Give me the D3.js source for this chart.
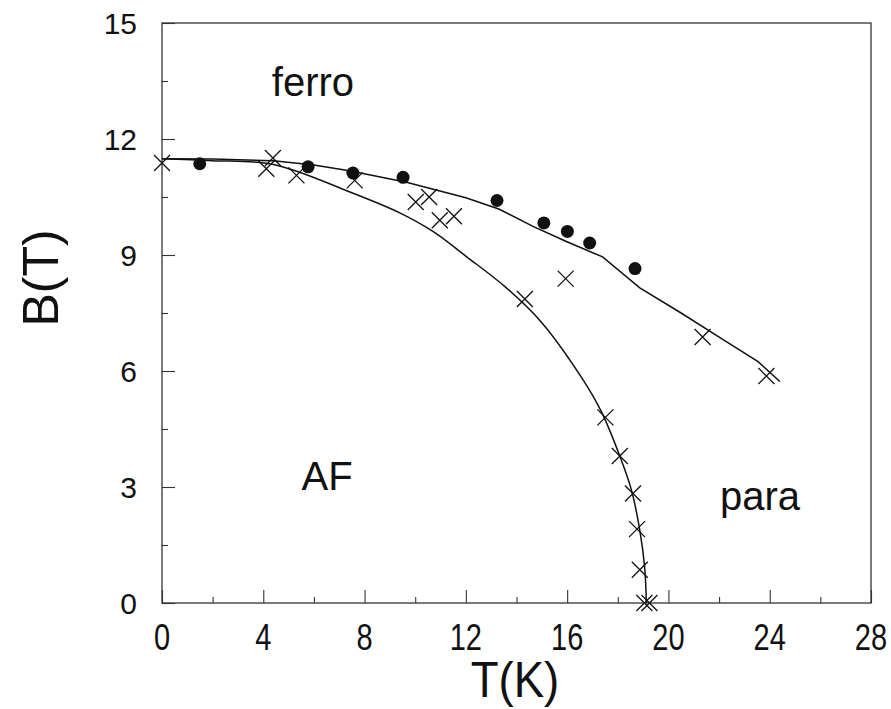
<!DOCTYPE html>
<html>
<head>
<meta charset="utf-8">
<title>B-T phase diagram</title>
<script src="https://d3js.org/d3.v7.min.js"></script>
<style>
  body { margin: 0; background: #fff; }
  svg text { font-family: "Liberation Sans", Arial, sans-serif; fill: #111; }
  .line { fill: none; stroke: #111; stroke-width: 1.5; }
  .dot { fill: #111; }
  .cross { stroke: #111; stroke-width: 1.3; }
</style>
</head>
<body>
<svg id="chart" width="891" height="709"></svg>
<script>
// closed circles (ferro boundary)
var circT = [1.49, 5.77, 7.54, 9.52, 13.23, 15.08, 16.01, 16.89, 18.68];
var circB = [11.36, 11.28, 11.12, 11.01, 10.41, 9.83, 9.61, 9.31, 8.65];

// crosses
var crossT = [0, 4.12, 4.38, 5.31, 7.61, 10.02, 10.55, 10.97, 11.53, 14.33, 15.94,
              17.51, 18.08, 18.6, 18.76, 18.87, 19.05, 19.25, 21.35, 23.87];
var crossB = [11.38, 11.23, 11.51, 11.06, 10.93, 10.37, 10.5, 9.9, 10.0, 7.86, 8.39,
              4.8, 3.8, 2.83, 1.91, 0.86, 0, 0, 6.88, 5.87];

// upper boundary line
var upT = [0, 2, 4.4, 6, 7.4, 9.65, 12.0, 13.3, 14.65, 15.97, 17.4, 18.87, 20.5, 22.16, 23.54, 24.4];
var upB = [11.49, 11.48, 11.44, 11.33, 11.18, 10.88, 10.48, 10.19, 9.74, 9.35, 8.95, 8.15, 7.5, 6.81, 6.24, 5.73];

// lower boundary line
var lowT = [0, 2, 4.4, 7.42, 9.39, 10.7, 12.02, 13.6, 15.0, 16.63, 17.35, 18.08, 18.54, 18.87, 19.06, 19.13];
var lowB = [11.49, 11.44, 11.34, 10.63, 10.09, 9.61, 8.96, 8.15, 7.25, 5.77, 4.95, 3.8, 2.92, 1.88, 0.93, 0];

var xTicks = [0, 4, 8, 12, 16, 20, 24, 28];
var yTicks = [0, 3, 6, 9, 12, 15];

var regionLabels = [
  { text: 'ferro', t: 5.96, b: 13.1 },
  { text: 'AF', t: 6.52, b: 2.93 },
  { text: 'para', t: 23.62, b: 2.41 }
];

var mLeft = 162, mRight = 871, mTop = 23, mBottom = 603;

var svg = d3.select('#chart');

var x = d3.scaleLinear().domain([0, 28]).range([mLeft, mRight]);
var y = d3.scaleLinear().domain([0, 15]).range([mBottom, mTop]);

// frame
svg.append('rect')
  .attr('x', mLeft).attr('y', mTop)
  .attr('width', mRight - mLeft).attr('height', mBottom - mTop)
  .attr('fill', 'none').attr('stroke', '#333').attr('stroke-width', 1.3);

// inward ticks
var xMinor = d3.range(2, 28, 4);
var yMinor = d3.range(1.5, 15, 3);

function noDomain(g) { g.select('.domain').remove(); }

svg.append('g')
  .attr('transform', 'translate(0,' + mBottom + ')')
  .call(d3.axisTop(x).tickValues(xTicks).tickSize(13).tickFormat(''))
  .call(noDomain);
svg.append('g')
  .attr('transform', 'translate(0,' + mBottom + ')')
  .call(d3.axisTop(x).tickValues(xMinor).tickSize(6).tickFormat(''))
  .call(noDomain);
svg.append('g')
  .attr('transform', 'translate(' + mLeft + ',0)')
  .call(d3.axisRight(y).tickValues(yTicks).tickSize(13).tickFormat(''))
  .call(noDomain);
svg.append('g')
  .attr('transform', 'translate(' + mLeft + ',0)')
  .call(d3.axisRight(y).tickValues(yMinor).tickSize(6).tickFormat(''))
  .call(noDomain);
svg.selectAll('.tick line').attr('stroke', '#333').attr('stroke-width', 1.1);

// tick labels (x labels are drawn tall and narrow like the original)
svg.selectAll('.xlab')
  .data(xTicks)
  .enter().append('text')
  .attr('class', 'xlab')
  .attr('transform', function (d) { return 'translate(' + x(d) + ',' + (mBottom + 47) + ') scale(1,1.3)'; })
  .attr('text-anchor', 'middle')
  .attr('font-size', 29)
  .text(function (d) { return d; });

svg.selectAll('.ylab')
  .data(yTicks)
  .enter().append('text')
  .attr('class', 'ylab')
  .attr('x', mLeft - 25)
  .attr('y', function (d) { return y(d) + 11; })
  .attr('text-anchor', 'end')
  .attr('font-size', 30)
  .text(function (d) { return d; });

// axis titles
svg.append('text')
  .attr('transform', 'translate(515,697) scale(0.95,1.05)')
  .attr('text-anchor', 'middle')
  .attr('font-size', 48)
  .text('T(K)');
svg.append('text')
  .attr('transform', 'translate(58,278) rotate(-90)')
  .attr('text-anchor', 'middle')
  .attr('font-size', 50)
  .text('B(T)');

// boundary lines
var lineUp = d3.line()
  .x(function (d, i) { return x(upT[i]); })
  .y(function (d, i) { return y(upB[i]); });
svg.append('path').attr('class', 'line').attr('d', lineUp(upT));

var lineLow = d3.line()
  .x(function (d, i) { return x(lowT[i]); })
  .y(function (d, i) { return y(lowB[i]); })
  .curve(d3.curveCatmullRom.alpha(0.5));
svg.append('path').attr('class', 'line').attr('d', lineLow(lowT));

// closed circles
svg.selectAll('.dot')
  .data(circT)
  .enter().append('circle')
  .attr('class', 'dot')
  .attr('cx', function (d) { return x(d); })
  .attr('cy', function (d, i) { return y(circB[i]); })
  .attr('r', 6.5);

// crosses
var cs = 8;
svg.selectAll('.cross')
  .data(crossT)
  .enter().append('path')
  .attr('class', 'cross')
  .attr('d', function (d, i) {
    var cx = x(d), cy = y(crossB[i]);
    return 'M' + (cx - cs) + ',' + (cy - cs) + 'L' + (cx + cs) + ',' + (cy + cs) +
           'M' + (cx - cs) + ',' + (cy + cs) + 'L' + (cx + cs) + ',' + (cy - cs);
  });

// region labels
svg.selectAll('.region')
  .data(regionLabels)
  .enter().append('text')
  .attr('class', 'region')
  .attr('x', function (d) { return x(d.t); })
  .attr('y', function (d) { return y(d.b); })
  .attr('text-anchor', 'middle')
  .attr('font-size', 40)
  .text(function (d) { return d.text; });
</script>
</body>
</html>
